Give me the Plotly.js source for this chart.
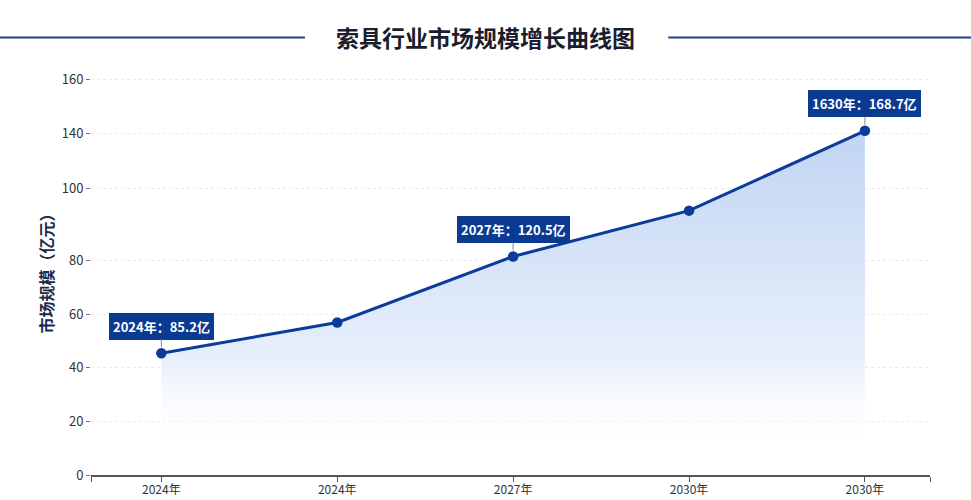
<!DOCTYPE html>
<html>
<head>
<meta charset="utf-8">
<script src="https://cdn.plot.ly/plotly-3.0.1.min.js"></script>
<style>html,body{margin:0;padding:0;background:#fff;}#chart{width:971px;height:500px;}</style>
</head>
<body>
<div id="chart"></div>
<script>
// category positions and their (inconsistent) labels as shown in the picture
const xPos = [0, 1, 2, 3, 4];
const xLabels = ['2024年', '2024年', '2027年', '2030年', '2030年'];
// values, in axis units
const values = [45.4, 56.9, 81.5, 98.6, 128.4];
// y tick positions and their printed labels
const yTickVals = [0, 20, 40, 60, 80, 106.8, 127.3, 147.7];
const yTickText = ['0', '20', '40', '60', '80', '100', '140', '160'];
// callout labels
const calloutIdx = [0, 2, 4];
const calloutText = ['2024年：85.2亿', '2027年：120.5亿', '1630年：168.7亿'];

const lineColor = '#0b3c9c';
const font = '"Noto Sans CJK SC", "Noto Sans", sans-serif';

const trace = {
  x: xPos, y: values, type: 'scatter', mode: 'lines+markers',
  line: {color: lineColor, width: 3},
  marker: {color: lineColor, size: 10.5},
  fill: 'tozeroy',
  fillgradient: {
    type: 'vertical', start: 8, stop: 130,
    colorscale: [[0, 'rgba(255,255,255,0)'], [0.3, 'rgba(226,236,250,0.85)'], [1, 'rgba(188,209,241,0.95)']]
  },
  hoverinfo: 'none'
};

const annotations = calloutIdx.map((i, k) => ({
  x: xPos[i], y: values[i], xref: 'x', yref: 'y',
  text: '<b>' + calloutText[k] + '</b>',
  showarrow: true, arrowhead: 0, arrowwidth: 1, arrowcolor: '#888',
  ax: 0, ay: -27, standoff: 6,
  bgcolor: '#0a3a92', bordercolor: '#0a3a92', borderpad: 3, borderwidth: 1,
  font: {family: font, size: 13, color: '#ffffff'}
}));

const layout = {
  width: 971, height: 500,
  margin: {l: 91, r: 41, t: 64, b: 25},
  paper_bgcolor: '#ffffff', plot_bgcolor: '#ffffff',
  showlegend: false,
  title: {
    text: '<b>索具行业市场规模增长曲线图</b>',
    font: {family: font, size: 23, color: '#1a1d2e'},
    x: 0.5, xanchor: 'center', y: 0.922, yanchor: 'middle'
  },
  xaxis: {
    range: [-0.4, 4.37],
    tickmode: 'array',
    tickvals: [-0.4].concat(xPos, [4.37]),
    ticktext: [''].concat(xLabels, ['']),
    showgrid: false, zeroline: false,
    showline: true, linecolor: '#555', linewidth: 1.5,
    ticks: 'outside', ticklen: 5, tickcolor: '#555', tickwidth: 1,
    ticklabelstandoff: -2,
    tickfont: {family: font, size: 12, color: '#333'},
    fixedrange: true
  },
  yaxis: {
    range: [0, 153.3],
    tickmode: 'array', tickvals: yTickVals, ticktext: yTickText,
    showgrid: true, gridcolor: '#ebebeb', griddash: 'dot', gridwidth: 1,
    zeroline: false, showline: false,
    ticks: 'outside', ticklen: 4, tickcolor: '#777',
    tickfont: {family: font, size: 13, color: '#333'},
    title: {text: '<b>市场规模（亿元）</b>', font: {family: font, size: 16, color: '#1c2a4d'}, standoff: 4},
    fixedrange: true
  },
  shapes: [
    {type: 'line', xref: 'paper', yref: 'paper', x0: -0.1085, x1: 0.255, y0: 1.0645, y1: 1.0645, line: {color: '#1f3f80', width: 2}},
    {type: 'line', xref: 'paper', yref: 'paper', x0: 0.688, x1: 1.049, y0: 1.0645, y1: 1.0645, line: {color: '#1f3f80', width: 2}}
  ],
  annotations: annotations
};

Plotly.newPlot('chart', [trace], layout, {displayModeBar: false, staticPlot: true});
</script>
</body>
</html>
